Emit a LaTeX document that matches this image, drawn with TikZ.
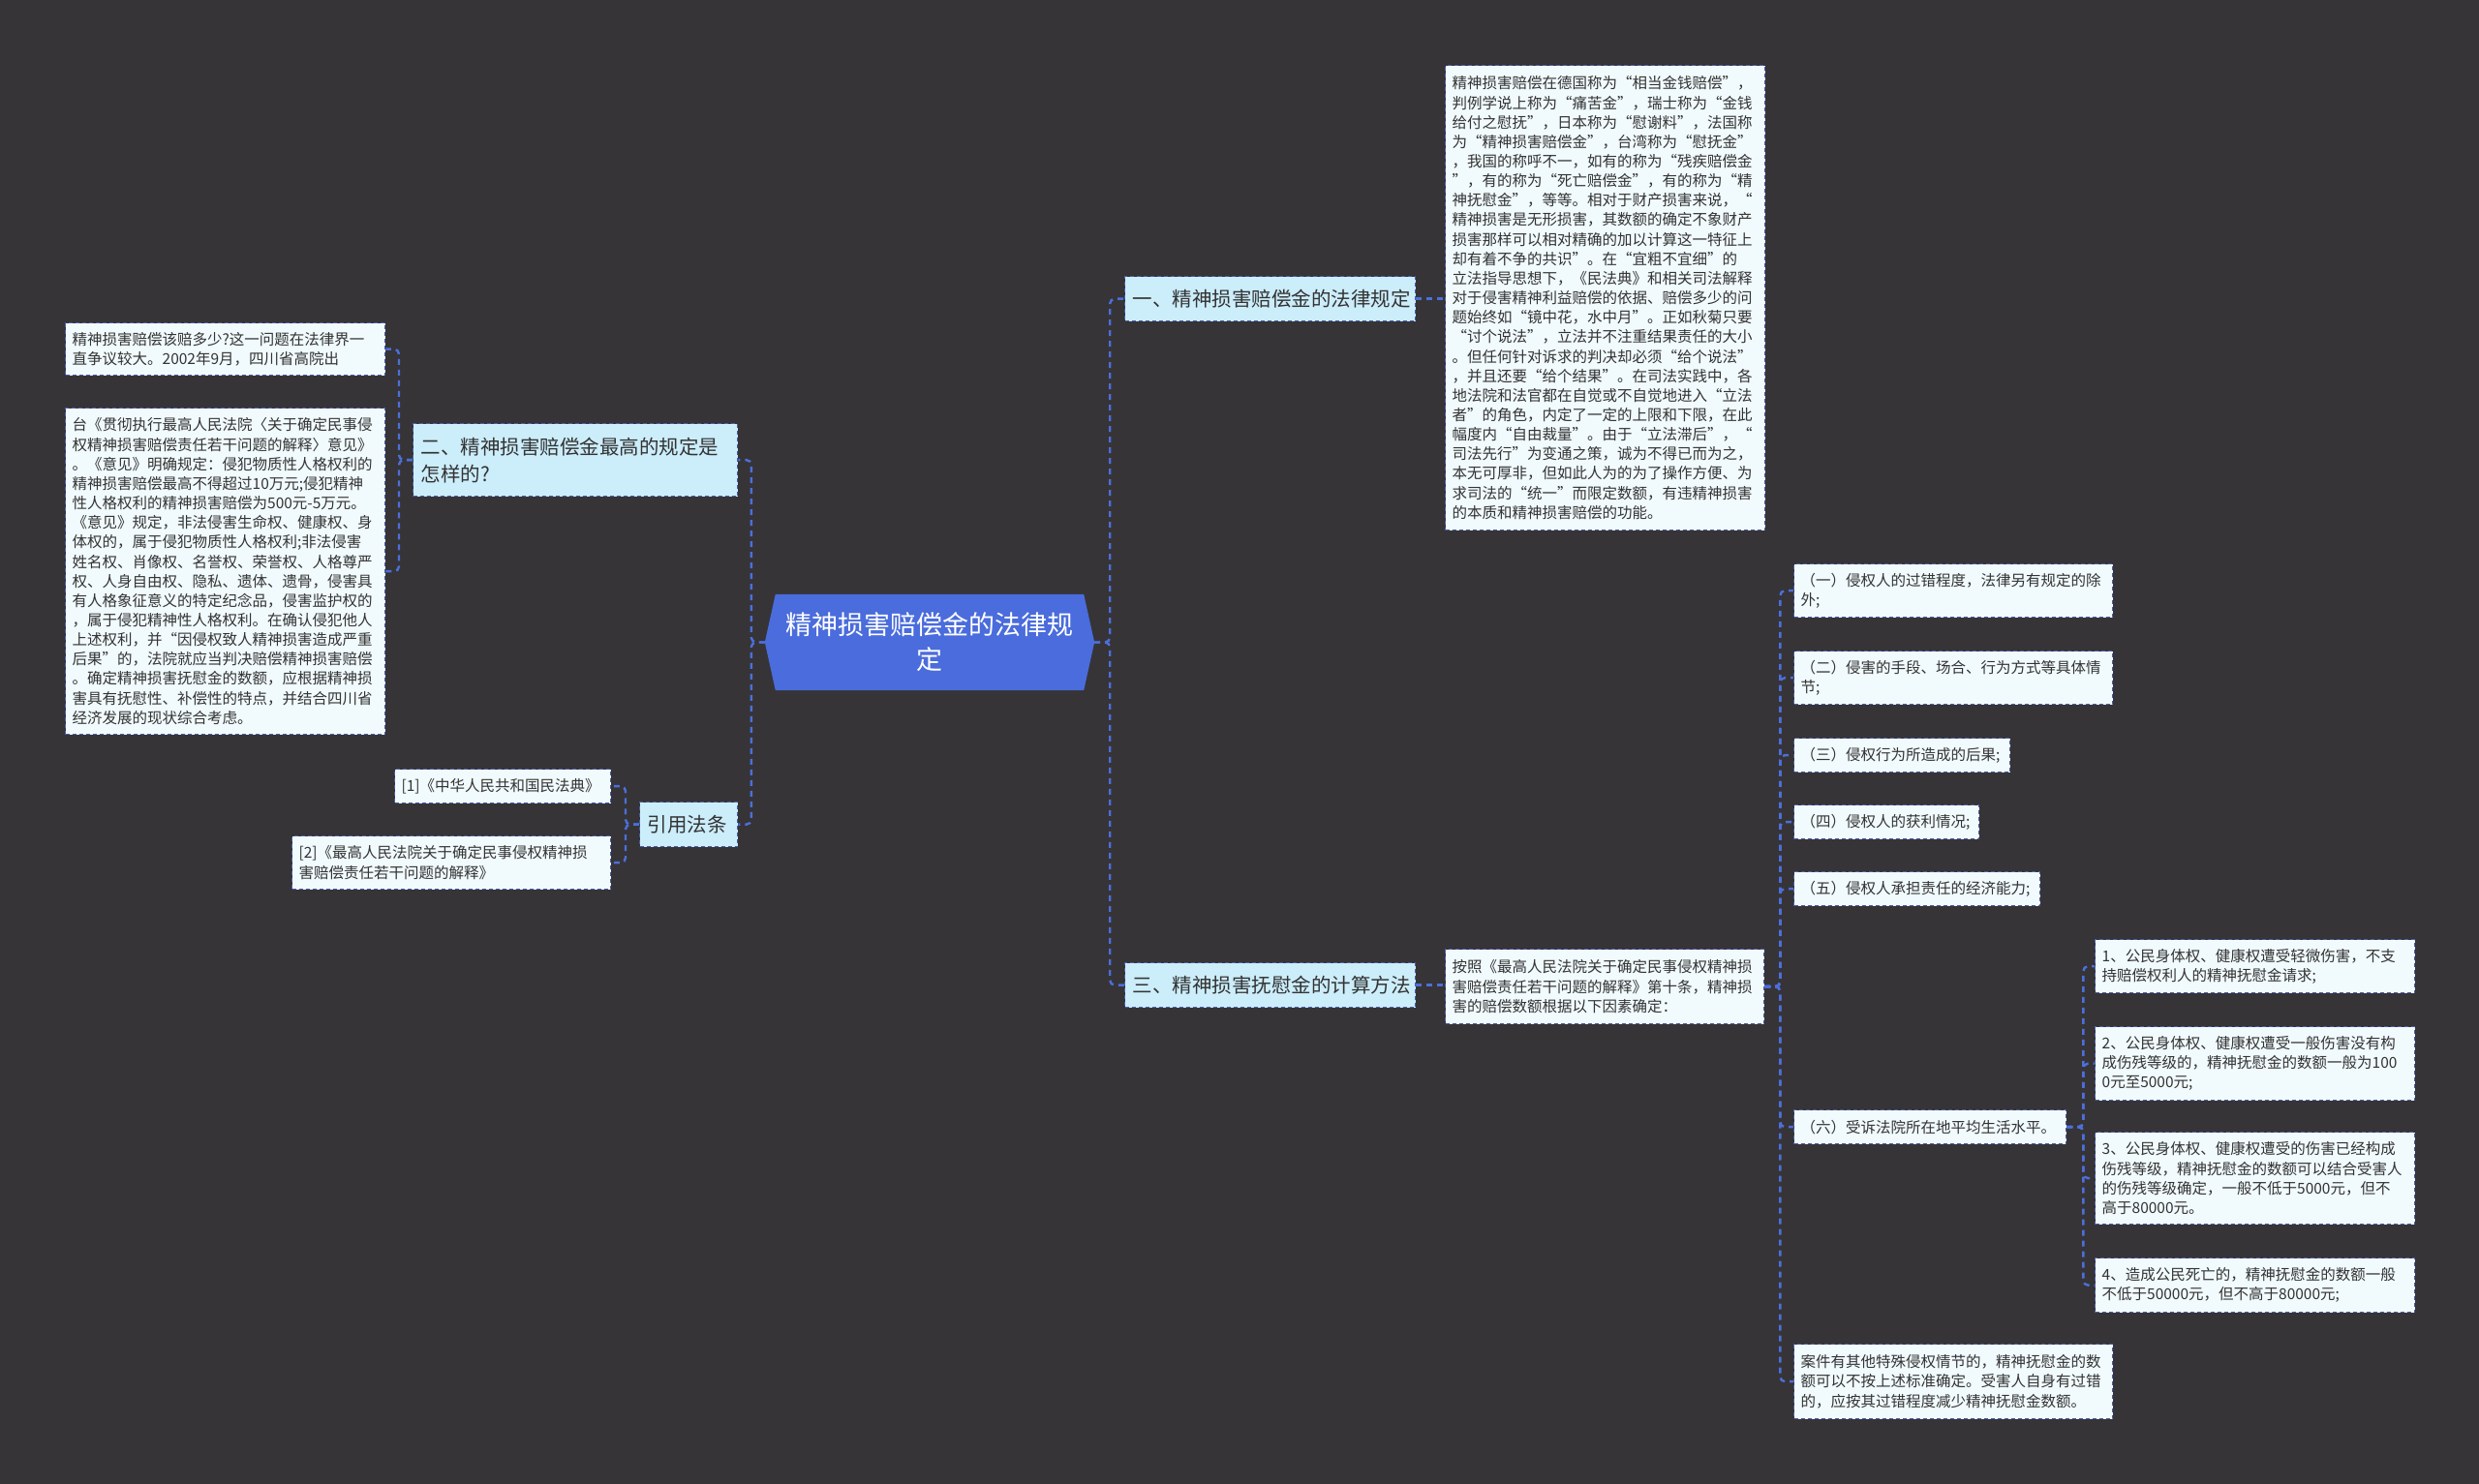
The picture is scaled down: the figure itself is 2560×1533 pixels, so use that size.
\documentclass[tikz,border=0pt]{standalone}
\usepackage{fontspec}
\setmainfont{Noto Sans CJK SC}
\usetikzlibrary{calc}
\definecolor{bgc}{HTML}{363437}
\definecolor{leaffill}{HTML}{F1FAFD}
\definecolor{leafborder}{HTML}{4A5DAA}
\definecolor{mainfill}{HTML}{CCEDFA}
\definecolor{rootfill}{HTML}{4A6CDC}
\definecolor{connc}{HTML}{4C6FDA}
\definecolor{txt}{HTML}{333333}
\pgfdeclarelayer{back}
\pgfsetlayers{back,main}
\tikzset{
  box/.style={draw=leafborder, dash pattern=on 4pt off 3pt, line width=1.3pt,
    text=txt, align=left, anchor=north west, inner xsep=7pt, inner ysep=0pt},
  leaf/.style={box, fill=leaffill, font=\fontsize{15.5}{20.15}\selectfont},
  branch/.style={box, fill=mainfill, inner xsep=8pt, font=\fontsize{20.5}{28}\selectfont},
  rootnode/.style={text=white, align=center, inner sep=0pt, font=\fontsize{27}{36}\selectfont},
  conn/.style={draw=connc, line width=2.4pt, dash pattern=on 6pt off 5pt, rounded corners=5pt}
}
\begin{document}
\begin{tikzpicture}[x=1pt,y=-1pt]
\begin{pgfonlayer}{back}
\fill[bgc] (0,0) rectangle (2560,1533);
\end{pgfonlayer}
\useasboundingbox (0,0) rectangle (2560,1533);

% root
\node[rootnode, minimum width=340pt, minimum height=99pt] (root) at (960,663.5) {精神损害赔偿金的法律规\\定};
\begin{pgfonlayer}{back}
\fill[rootfill] (root.west) -- ($(root.north west)+(11,0)$) -- ($(root.north east)+(-11,0)$) -- (root.east) -- ($(root.south east)+(-11,0)$) -- ($(root.south west)+(11,0)$) -- cycle;
\end{pgfonlayer}

% main branches
\node[branch, text width=284pt, minimum height=46pt] (n1) at (1161,285) {一、精神损害赔偿金的法律规定};
\node[branch, text width=284pt, minimum height=46pt] (n3) at (1161,994) {三、精神损害抚慰金的计算方法};
\node[branch, text width=319pt, minimum height=75pt] (n2) at (426,437) {二、精神损害赔偿金最高的规定是\\怎样的?};
\node[branch, text width=85pt, minimum height=46pt] (cite) at (660,828) {引用法条};

% left leaves
\node[leaf, text width=316pt, minimum height=54pt] (la) at (67,333) {精神损害赔偿该赔多少?这一问题在法律界一\\直争议较大。2002年9月，四川省高院出};
\node[leaf, text width=316pt, minimum height=337pt] (lb) at (67,421) {台《贯彻执行最高人民法院〈关于确定民事侵\\权精神损害赔偿责任若干问题的解释〉意见》\\。《意见》明确规定：侵犯物质性人格权利的\\精神损害赔偿最高不得超过10万元;侵犯精神\\性人格权利的精神损害赔偿为500元-5万元。\\《意见》规定，非法侵害生命权、健康权、身\\体权的，属于侵犯物质性人格权利;非法侵害\\姓名权、肖像权、名誉权、荣誉权、人格尊严\\权、人身自由权、隐私、遗体、遗骨，侵害具\\有人格象征意义的特定纪念品，侵害监护权的\\，属于侵犯精神性人格权利。在确认侵犯他人\\上述权利，并“因侵权致人精神损害造成严重\\后果”的，法院就应当判决赔偿精神损害赔偿\\。确定精神损害抚慰金的数额，应根据精神损\\害具有抚慰性、补偿性的特点，并结合四川省\\经济发展的现状综合考虑。};
\node[leaf, text width=209pt, minimum height=35pt] (c1) at (407,794) {[1]《中华人民共和国民法典》};
\node[leaf, text width=315pt, minimum height=55pt] (c2) at (301,863) {[2]《最高人民法院关于确定民事侵权精神损\\害赔偿责任若干问题的解释》};

% right leaves
\node[leaf, text width=316pt, minimum height=480pt] (t1) at (1492,67) {精神损害赔偿在德国称为“相当金钱赔偿”，\\判例学说上称为“痛苦金”，瑞士称为“金钱\\给付之慰抚”，日本称为“慰谢料”，法国称\\为“精神损害赔偿金”，台湾称为“慰抚金”\\，我国的称呼不一，如有的称为“残疾赔偿金\\”，有的称为“死亡赔偿金”，有的称为“精\\神抚慰金”，等等。相对于财产损害来说，“\\精神损害是无形损害，其数额的确定不象财产\\损害那样可以相对精确的加以计算这一特征上\\却有着不争的共识”。在“宜粗不宜细”的\\立法指导思想下，《民法典》和相关司法解释\\对于侵害精神利益赔偿的依据、赔偿多少的问\\题始终如“镜中花，水中月”。正如秋菊只要\\“讨个说法”，立法并不注重结果责任的大小\\。但任何针对诉求的判决却必须“给个说法”\\，并且还要“给个结果”。在司法实践中，各\\地法院和法官都在自觉或不自觉地进入“立法\\者”的角色，内定了一定的上限和下限，在此\\幅度内“自由裁量”。由于“立法滞后”，“\\司法先行”为变通之策，诚为不得已而为之，\\本无可厚非，但如此人为的为了操作方便、为\\求司法的“统一”而限定数额，有违精神损害\\的本质和精神损害赔偿的功能。};
\node[leaf, text width=315pt, minimum height=77pt] (t3) at (1492,980) {按照《最高人民法院关于确定民事侵权精神损\\害赔偿责任若干问题的解释》第十条，精神损\\害的赔偿数额根据以下因素确定：};

\node[leaf, text width=315pt, minimum height=55pt] (s1) at (1852,582) {（一）侵权人的过错程度，法律另有规定的除\\外;};
\node[leaf, text width=315pt, minimum height=55pt] (s2) at (1852,672) {（二）侵害的手段、场合、行为方式等具体情\\节;};
\node[leaf, text width=209pt, minimum height=35pt] (s3) at (1852,762) {（三）侵权行为所造成的后果;};
\node[leaf, text width=177pt, minimum height=35pt] (s4) at (1852,831) {（四）侵权人的获利情况;};
\node[leaf, text width=240pt, minimum height=35pt] (s5) at (1852,900) {（五）侵权人承担责任的经济能力;};
\node[leaf, text width=267pt, minimum height=35pt] (s6) at (1852,1146) {（六）受诉法院所在地平均生活水平。};
\node[leaf, text width=315pt, minimum height=77pt] (s7) at (1852,1388) {案件有其他特殊侵权情节的，精神抚慰金的数\\额可以不按上述标准确定。受害人自身有过错\\的，应按其过错程度减少精神抚慰金数额。};

\node[leaf, text width=316pt, minimum height=55pt] (d1) at (2163,970) {1、公民身体权、健康权遭受轻微伤害，不支\\持赔偿权利人的精神抚慰金请求;};
\node[leaf, text width=316pt, minimum height=76pt] (d2) at (2163,1060) {2、公民身体权、健康权遭受一般伤害没有构\\成伤残等级的，精神抚慰金的数额一般为100\\0元至5000元;};
\node[leaf, text width=316pt, minimum height=95pt] (d3) at (2163,1169) {3、公民身体权、健康权遭受的伤害已经构成\\伤残等级，精神抚慰金的数额可以结合受害人\\的伤残等级确定，一般不低于5000元，但不\\高于80000元。};
\node[leaf, text width=316pt, minimum height=56pt] (d4) at (2163,1299) {4、造成公民死亡的，精神抚慰金的数额一般\\不低于50000元，但不高于80000元;};

% connectors
\begin{pgfonlayer}{back}
\draw[conn] (root.west) -- ++(-14,0) |- (n2.east);
\draw[conn] (root.west) -- ++(-14,0) |- (cite.east);
\draw[conn] (n2.west) -- ++(-14,0) |- (la.east);
\draw[conn] (n2.west) -- ++(-14,0) |- (lb.east);
\draw[conn] (cite.west) -- ++(-14,0) |- (c1.east);
\draw[conn] (cite.west) -- ++(-14,0) |- (c2.east);
\draw[conn] (root.east) -- ++(16,0) |- (n1.west);
\draw[conn] (root.east) -- ++(16,0) |- (n3.west);
\draw[conn] (n1.east) -- (n1.east -| t1.west);
\draw[conn] (n3.east) -- (n3.east -| t3.west);
\foreach \s in {s1,s2,s3,s4,s5,s6,s7} {
  \draw[conn] (t3.east) -- ++(16,0) |- (\s.west);
}
\foreach \d in {d1,d2,d3,d4} {
  \draw[conn] (s6.east) -- ++(17,0) |- (\d.west);
}
\end{pgfonlayer}
\end{tikzpicture}
\end{document}
